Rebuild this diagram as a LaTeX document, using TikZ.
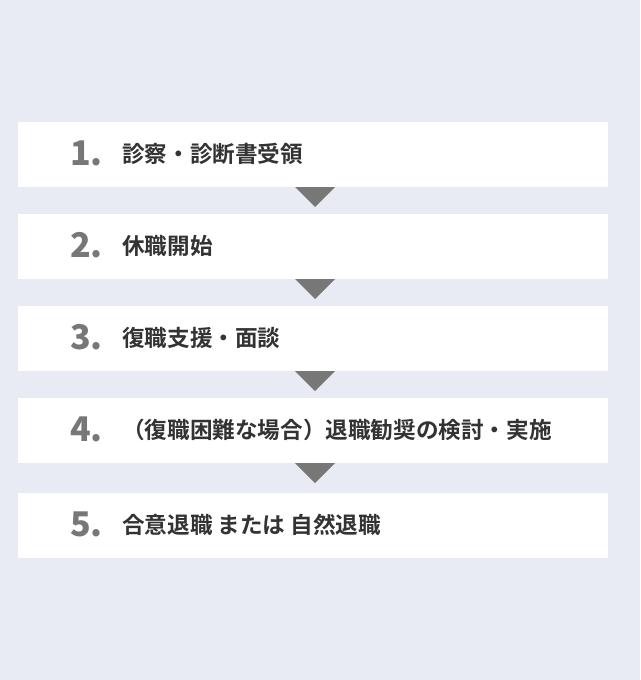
\documentclass[tikz,border=0pt]{standalone}
\usepackage{fontspec}
\setmainfont{Noto Sans CJK JP}[BoldFont={* Bold}]
\newfontfamily\jpbold{Noto Sans CJK JP Bold}
\newfontfamily\jpblack{Noto Sans CJK JP Black}
\definecolor{bgc}{HTML}{E8EBF3}
\definecolor{numc}{HTML}{777777}
\definecolor{txtc}{HTML}{333333}
\definecolor{arrc}{HTML}{777777}
\tikzset{
  stepbox/.style={fill=white, draw=none},
  numlabel/.style={anchor=base west, inner sep=0pt, text=numc, font=\jpblack\fontsize{34}{34}\selectfont},
  steplabel/.style={anchor=west, inner sep=0pt, text=txtc, font=\jpbold\fontsize{22.6}{22.6}\selectfont},
  downtri/.style={fill=arrc, draw=none}
}
\begin{document}
\begin{tikzpicture}[x=1pt,y=-1pt]
\fill[bgc] (0,0) rectangle (640,680);
\useasboundingbox (0,0) rectangle (640,680);
% boxes
\foreach \i/\t in {1/122,2/214,3/306,4/398,5/493}{
  \fill[stepbox] (18,\t) rectangle (608,\t+65);
}
\node[numlabel] (n1) at (70,165) {1.};
\node[steplabel] (t1) at (122,154) {診察・診断書受領};
\node[numlabel] (n2) at (70,257) {2.};
\node[steplabel] (t2) at (122,246) {休職開始};
\node[numlabel] (n3) at (70,349) {3.};
\node[steplabel] (t3) at (122,338) {復職支援・面談};
\node[numlabel] (n4) at (70,441) {4.};
\node[steplabel] (t4) at (122,430) {（復職困難な場合）退職勧奨の検討・実施};
\node[numlabel] (n5) at (70,536) {5.};
\node[steplabel] (t5) at (122,525) {合意退職 または 自然退職};
% triangles
\foreach \t in {187,279,371,463}{
  \fill[downtri] (295,\t) -- (335,\t) -- (315,\t+20) -- cycle;
}
\end{tikzpicture}
\end{document}
